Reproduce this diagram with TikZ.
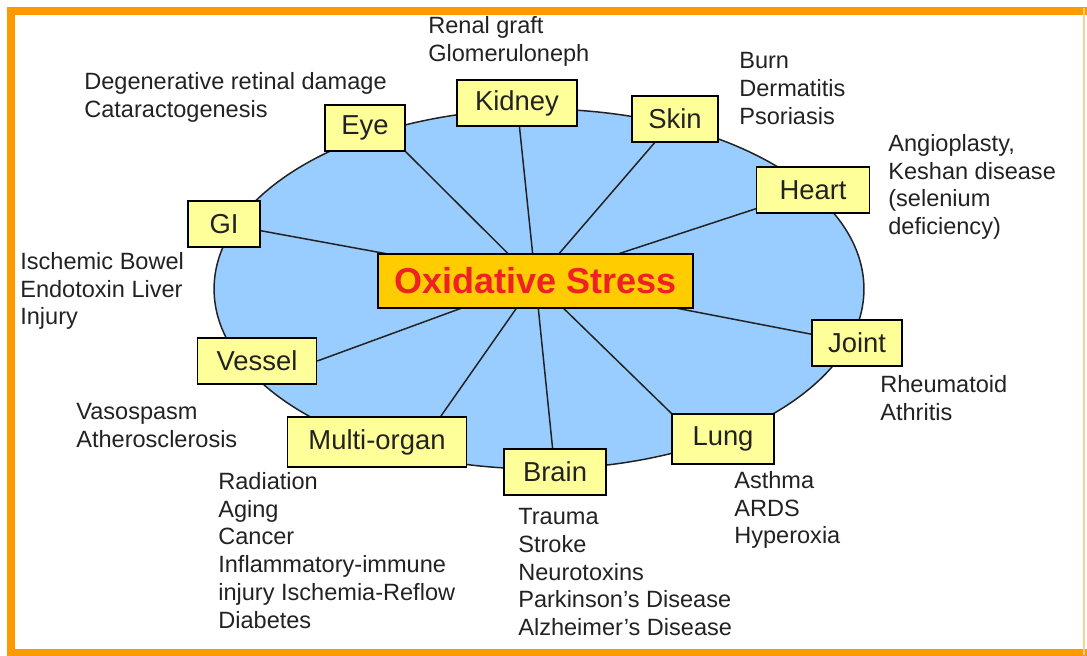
\documentclass[tikz,border=0pt]{standalone}
\usepackage{fontspec}
\setmainfont{Liberation Sans}
\usetikzlibrary{backgrounds}
\definecolor{osorange}{HTML}{FF9900}
\definecolor{osblue}{HTML}{99CCFF}
\definecolor{osyellow}{HTML}{FFFF99}
\definecolor{osgold}{HTML}{FFCC00}
\definecolor{osred}{HTML}{EE2222}
\definecolor{osink}{HTML}{222222}

\begin{document}
\begin{tikzpicture}[x=0.02cm, y=-0.02cm,
    organ/.style={draw=black, line width=0.9pt, fill=osyellow, text=osink, font=\fontsize{15.6}{18}\selectfont, minimum height=0.92cm, inner sep=0},
    note/.style={anchor=north west, align=left, inner sep=0, text=osink, font=\fontsize{13.4}{15.8}\selectfont},
    spoke/.style={draw=osink, line width=0.85pt}]
    \useasboundingbox (0,0) rectangle (1087,655);
    \begin{scope}[on background layer]
      \draw[fill=osblue, line width=0.85pt, draw=osink] (539,289) ellipse [x radius=6.5cm, y radius=3.6cm];
    \end{scope}
    \draw[osorange, line width=0.16cm] (1090,11) -- (11,11) -- (11,653) -- (1090,653);
    \draw[osorange!45, line width=0.8pt] (1084,8) -- (1084,655);
    \node[draw=black, line width=0.9pt, fill=osgold, minimum width=6.3cm, minimum height=1.08cm, font=\fontsize{20.5}{24}\selectfont\bfseries, text=osred] (stress) at (535.5,281) {Oxidative Stress};
    \node[organ, minimum width=2.4cm] (kidney) at (517,103) {Kidney};
    \node[organ, minimum width=1.72cm] (skin) at (675,119) {Skin};
    \node[organ, minimum width=1.6cm] (eye) at (365,128) {Eye};
    \node[organ, minimum width=1.44cm] (gi) at (224,224) {GI};
    \node[organ, minimum width=2.26cm] (heart) at (813,190) {Heart};
    \node[organ, minimum width=1.8cm] (joint) at (857,343) {Joint};
    \node[organ, minimum width=2.04cm, minimum height=1.0cm] (lung) at (723,439) {Lung};
    \node[organ, minimum width=2.04cm] (brain) at (555,472) {Brain};
    \node[organ, minimum width=3.58cm, minimum height=1.0cm] (multi) at (377,442) {Multi-organ};
    \node[organ, minimum width=2.38cm] (vessel) at (257,361) {Vessel};
    \begin{scope}[on background layer]
      \draw[spoke] (stress.center) -- (kidney.center);
      \draw[spoke] (stress.center) -- (skin.center);
      \draw[spoke] (stress.center) -- (eye.south east);
      \draw[spoke] (stress.center) -- (gi.center);
      \draw[spoke] (stress.center) -- (heart.center);
      \draw[spoke] (stress.center) -- (joint.center);
      \draw[spoke] (stress.center) -- (lung.north west);
      \draw[spoke] (stress.center) -- (brain.center);
      \draw[spoke] (stress.center) -- (multi.22);
      \draw[spoke] (stress.center) -- (vessel.east);
    \end{scope}
    \node[note] (renal) at (428,16) {Renal graft\\Glomeruloneph};
    \node[note] (retina) at (84,72) {Degenerative retinal damage\\Cataractogenesis};
    \node[note] (burn) at (739,52) {Burn\\Dermatitis\\Psoriasis};
    \node[note] (cardio) at (888,134) {Angioplasty,\\Keshan disease\\(selenium\\deficiency)};
    \node[note] (bowel) at (20,252) {Ischemic Bowel\\Endotoxin Liver\\Injury};
    \node[note] (vaso) at (76,403) {Vasospasm\\Atherosclerosis};
    \node[note] (general) at (218,472) {Radiation\\Aging\\Cancer\\Inflammatory-immune\\injury Ischemia-Reflow\\Diabetes};
    \node[note] (neuro) at (518,508) {Trauma\\Stroke\\Neurotoxins\\Parkinson’s Disease\\Alzheimer’s Disease};
    \node[note] (resp) at (734,471) {Asthma\\ARDS\\Hyperoxia};
    \node[note] (rheum) at (880,375) {Rheumatoid\\Athritis};
\end{tikzpicture}
\end{document}
